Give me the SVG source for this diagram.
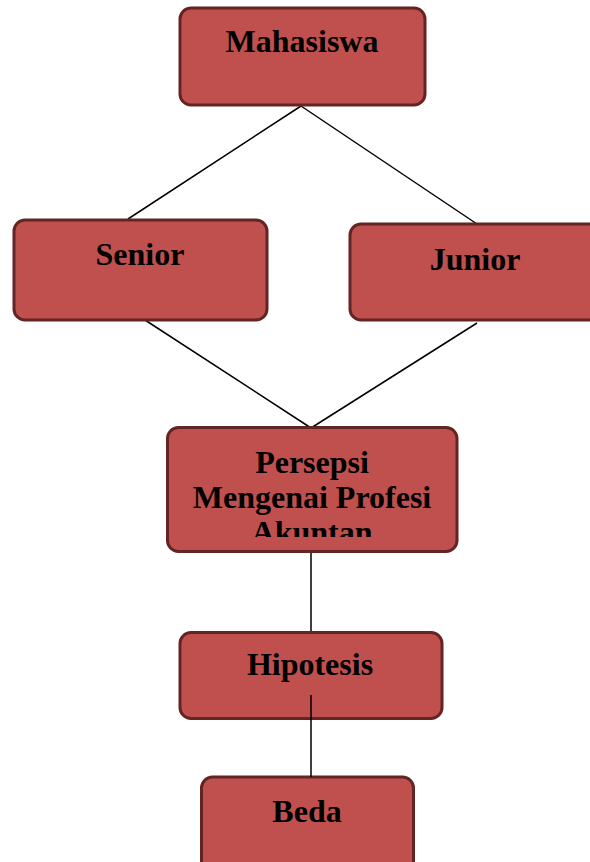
<svg xmlns="http://www.w3.org/2000/svg" width="590" height="862" viewBox="0 0 590 862">
<style>
.box{fill:#C0504D;stroke:#632523;stroke-width:3}
.lbl{font-family:"Liberation Serif","Times New Roman",serif;font-weight:bold;font-size:32px;fill:#000;text-anchor:middle}
.conn{stroke:#000;stroke-width:1.5;fill:none}
</style>
<defs>
<clipPath id="clipP"><rect x="167" y="427" width="291" height="110"/></clipPath>
</defs>
<rect width="590" height="862" fill="#fff"/>
<g id="connectors">
<line class="conn" x1="301" y1="106" x2="128" y2="219"/>
<line class="conn" x1="301" y1="106" x2="477" y2="224"/>
<line class="conn" x1="145" y1="320" x2="311" y2="428"/>
<line class="conn" x1="477" y1="323" x2="311" y2="428"/>
<line class="conn" x1="311" y1="552" x2="311" y2="632"/>
</g>
<g id="mahasiswa">
<rect class="box" x="180" y="8" width="245" height="97" rx="11"/>
<text class="lbl" x="302" y="52">Mahasiswa</text>
</g>
<g id="senior">
<rect class="box" x="14" y="220" width="253" height="100" rx="11"/>
<text class="lbl" x="140" y="265">Senior</text>
</g>
<g id="junior">
<rect class="box" x="350" y="224" width="262" height="96" rx="11"/>
<text class="lbl" x="475" y="270">Junior</text>
</g>
<g id="persepsi">
<rect class="box" x="167.5" y="427.5" width="289.5" height="124" rx="11"/>
<g clip-path="url(#clipP)">
<text class="lbl" x="312" y="473">Persepsi</text>
<text class="lbl" x="312" y="508">Mengenai Profesi</text>
<text class="lbl" x="312" y="543">Akuntan</text>
</g>
</g>
<g id="hipotesis">
<rect class="box" x="180" y="632.5" width="262" height="86" rx="11"/>
<text class="lbl" x="310" y="675">Hipotesis</text>
</g>
<g id="beda">
<rect class="box" x="201.5" y="777" width="212" height="100" rx="11"/>
<text class="lbl" x="307" y="822">Beda</text>
</g>
<g id="connectors-top">
<line class="conn" x1="311" y1="695" x2="311" y2="777"/>
</g>
</svg>
